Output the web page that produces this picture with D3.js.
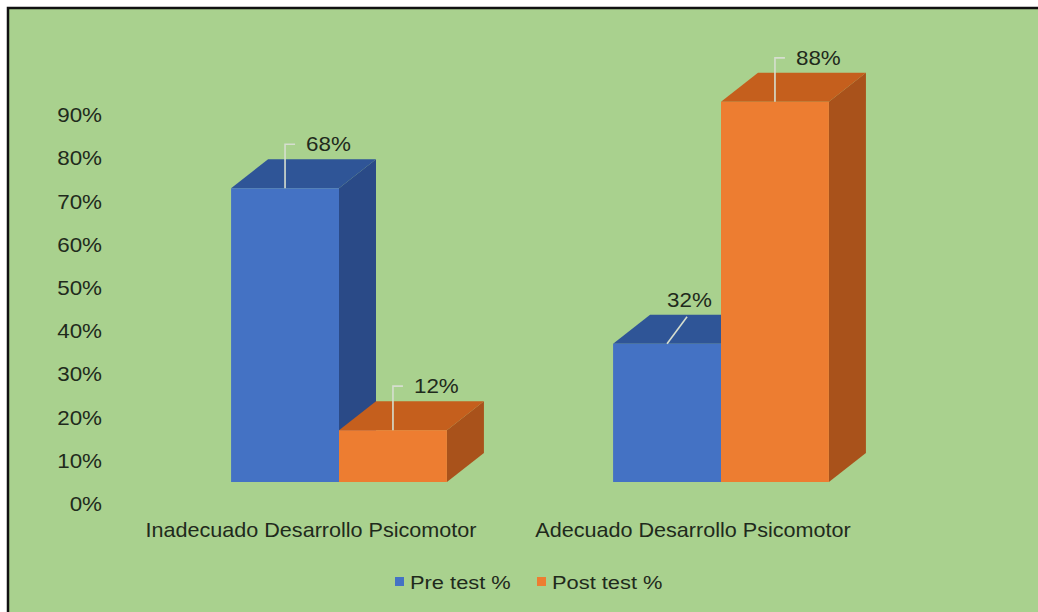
<!DOCTYPE html>
<html>
<head>
<meta charset="utf-8">
<script src="https://cdn.jsdelivr.net/npm/d3@7/dist/d3.min.js"></script>
<style>
  html, body { margin: 0; padding: 0; background: #fff; }
  svg { display: block; font-family: "Liberation Sans", Arial, sans-serif; }
</style>
</head>
<body>
<div id="chart"></div>
<script>
// chart values
const categories = ['Inadecuado Desarrollo Psicomotor', 'Adecuado Desarrollo Psicomotor'];
const seriesNames = ['Pre test %', 'Post test %'];
const preTest = [68, 32];
const postTest = [12, 88];
const yTicks = [0, 10, 20, 30, 40, 50, 60, 70, 80, 90];

const width = 1038;
const height = 612;
const depthX = 37;   // 3d offset of the bars
const depthY = 29;
const textColor = '#1f2a1c';
const stretch = 1.12;

const colours = {
  'Pre test %': {front: '#4472C4', top: '#2F5597', side: '#2A4A87'},
  'Post test %': {front: '#ED7D31', top: '#C55F1D', side: '#A9521B'}
};

const svg = d3.select('#chart').append('svg')
    .attr('width', width)
    .attr('height', height);

// background + frame
svg.append('rect')
    .attr('x', 8).attr('y', 8)
    .attr('width', width - 8).attr('height', height - 8)
    .attr('fill', '#A9D18E');
svg.append('path')
    .attr('d', 'M8,' + height + 'V8H' + width)
    .attr('fill', 'none')
    .attr('stroke', '#111')
    .attr('stroke-width', 2.5);

// scales
const y = d3.scaleLinear()
    .domain([0, 100])
    .range([482, 482 - 432]);

const x0 = d3.scaleBand()
    .domain(categories)
    .range([148, 912])
    .paddingInner(0.435)
    .paddingOuter(0.2175);

const x1 = d3.scaleBand()
    .domain(seriesNames)
    .range([0, x0.bandwidth()]);

// y axis (labels sit a bit below the front of the bars, like the 3d wall)
const yAxis = svg.append('g')
    .attr('transform', 'translate(102,22)')
    .call(d3.axisLeft(y).tickValues(yTicks).tickSize(0).tickPadding(0)
      .tickFormat(d => d + '%'));
yAxis.select('.domain').remove();
yAxis.selectAll('text')
    .attr('fill', textColor)
    .style('font-size', '20px')
    .attr('transform', 'scale(' + stretch + ',1)');

// bar rows built from the series arrays
const rows = [];
categories.forEach((c, i) => {
  rows.push({cat: c, series: 'Pre test %', value: preTest[i]});
  rows.push({cat: c, series: 'Post test %', value: postTest[i]});
});

const bars = svg.append('g');
rows.forEach(d => {
  const bx = x0(d.cat) + x1(d.series);
  const bw = x1.bandwidth();
  const top = y(d.value);
  const bottom = y(0);
  const col = colours[d.series];
  const g = bars.append('g');

  // side face
  g.append('path')
      .attr('d', d3.line()([
        [bx + bw, top], [bx + bw + depthX, top - depthY],
        [bx + bw + depthX, bottom - depthY], [bx + bw, bottom]
      ]) + 'Z')
      .attr('fill', col.side);
  // top face
  g.append('path')
      .attr('d', d3.line()([
        [bx, top], [bx + depthX, top - depthY],
        [bx + bw + depthX, top - depthY], [bx + bw, top]
      ]) + 'Z')
      .attr('fill', col.top);
  // front face
  g.append('rect')
      .attr('x', bx).attr('y', top)
      .attr('width', bw).attr('height', bottom - top)
      .attr('fill', col.front);
});

// data labels with leader lines
const labels = svg.append('g');
rows.forEach(d => {
  const bx = x0(d.cat) + x1(d.series);
  const bw = x1.bandwidth();
  const cx = bx + bw / 2;
  const top = y(d.value);
  const base = top - 37;
  const labelW = 44;
  let lx = cx + 21;
  // keep the label clear of a taller neighbour bar
  const next = rows.find(r => r.cat === d.cat && r.series !== d.series && x1(r.series) > x1(d.series));
  let shifted = false;
  if (next && y(next.value) < base && lx + labelW > bx + bw - 10) {
    lx = bx + bw - 10 - labelW;
    shifted = true;
  }

  const pts = shifted
    ? [[cx, top], [cx + 20, base + 10]]
    : [[cx, top], [cx, base - 7], [cx + 10, base - 7]];
  labels.append('path')
      .attr('d', d3.line()(pts))
      .attr('fill', 'none')
      .attr('stroke', '#D6DECF')
      .attr('stroke-width', 1.6);

  labels.append('text')
      .attr('transform', 'translate(' + lx + ',' + base + ') scale(' + stretch + ',1)')
      .attr('fill', textColor)
      .style('font-size', '20px')
      .text(d.value + '%');
});

// category labels
svg.append('g').selectAll('text')
    .data(categories)
    .join('text')
      .attr('transform', d => 'translate(' + (x0(d) + x0.bandwidth() / 2 - 28) + ',537) scale(1.08,1)')
      .attr('text-anchor', 'middle')
      .attr('fill', textColor)
      .style('font-size', '20px')
      .text(d => d);

// legend
const legendX = [395, 537];
const legend = svg.append('g');
seriesNames.forEach((s, i) => {
  legend.append('rect')
      .attr('x', legendX[i]).attr('y', 577)
      .attr('width', 9).attr('height', 9)
      .attr('fill', colours[s].front);
  legend.append('text')
      .attr('transform', 'translate(' + (legendX[i] + 15) + ',589) scale(1.15,1)')
      .attr('fill', textColor)
      .style('font-size', '19px')
      .text(s);
});
</script>
</body>
</html>
